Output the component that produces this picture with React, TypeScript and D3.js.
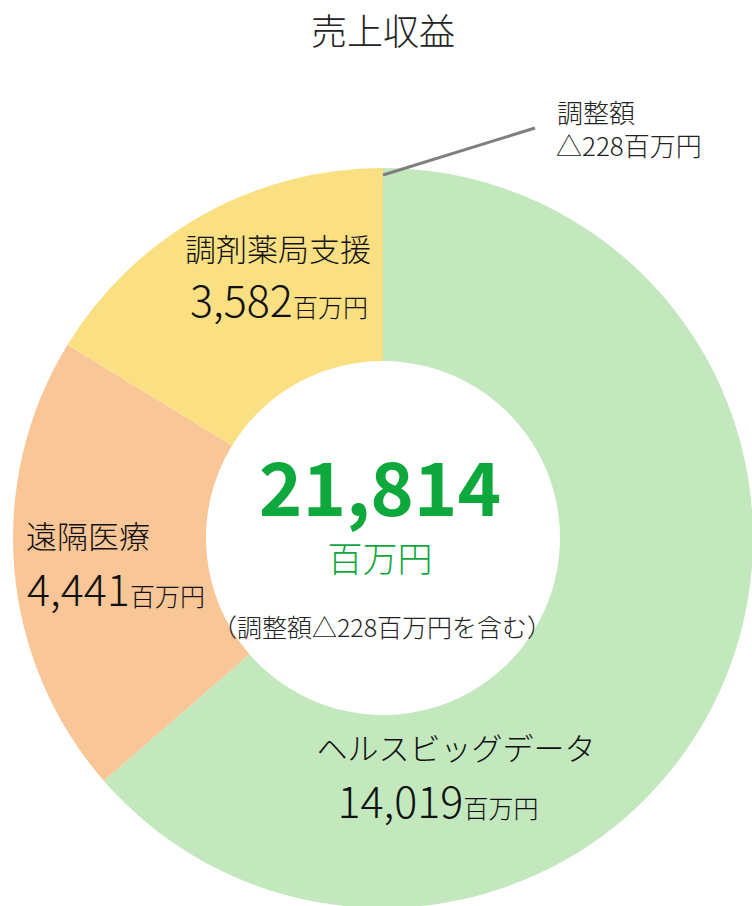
import React from "react";
import * as d3 from "d3";

const categories = ["ヘルスビッグデータ", "遠隔医療", "調剤薬局支援"];
const values = [14019, 4441, 3582];
const colors = ["#C3E8BE", "#F9C698", "#FBE083"];
const adjustment = -228;
const unit = "百万円";
const title = "売上収益";

const W = 752;
const H = 906;
const FONT = "'Noto Sans CJK JP', 'Noto Sans', sans-serif";

const labelPos = [
  { x1: 456, x2: 438, y1: 760, y2: 818 },
  { x1: 88, x2: 116, y1: 548, y2: 606 },
  { x1: 278, x2: 279, y1: 261, y2: 317 },
];

export default function App() {
  const cx = 383;
  const cy = 538;
  const outerR = 370;
  const innerR = 177;
  const pie = d3
    .pie<number>()
    .sort(null)
    .startAngle(0)
    .endAngle(2 * Math.PI)
    .value((d) => d);
  const arcs = pie(values);
  const arc = d3.arc<d3.PieArcDatum<number>>().innerRadius(innerR).outerRadius(outerR);
  const total = d3.sum(values) + adjustment;
  const fmt = d3.format(",");
  const adjText = "△" + Math.abs(adjustment);

  return (
    <svg width={W} height={H} style={{ position: "absolute", left: 0, top: 0, fontFamily: FONT }}>
      <rect width={W} height={H} fill="#fff" />
      <text x={383} y={45} textAnchor="middle" fontSize={36} fontWeight={300} fill="#222">
        {title}
      </text>
      <g transform={`translate(${cx},${cy})`}>
        {arcs.map((a, i) => (
          <path key={i} d={arc(a) || ""} fill={colors[i]} />
        ))}
      </g>
      <line x1={cx} y1={cy - outerR + 7} x2={535} y2={128} stroke="#7f7f7f" strokeWidth={3} />
      <text x={557} y={123} fontSize={26} fontWeight={300} fill="#222">調整額</text>
      <text x={556} y={156} fontSize={26} fontWeight={300} fill="#222">{adjText + unit}</text>

      {categories.map((c, i) => (
        <g key={c}>
          <text x={labelPos[i].x1} y={labelPos[i].y1} textAnchor="middle" fontSize={31} fontWeight={300} fill="#111">
            {c}
          </text>
          <text x={labelPos[i].x2} y={labelPos[i].y2} textAnchor="middle" fontWeight={300} fill="#111">
            <tspan fontSize={43}>{fmt(values[i])}</tspan>
            <tspan fontSize={25}>{unit}</tspan>
          </text>
        </g>
      ))}

      <text x={380} y={516} textAnchor="middle" fontSize={74} fontWeight="bold" fill="#0FA83C">
        {fmt(total)}
      </text>
      <text x={380} y={572} textAnchor="middle" fontSize={35} fontWeight={300} fill="#0FA83C">
        {unit}
      </text>
      <text x={382} y={637} textAnchor="middle" fontSize={25} fontWeight={300} fill="#222">
        {"（調整額" + adjText + unit + "を含む）"}
      </text>
    </svg>
  );
}
